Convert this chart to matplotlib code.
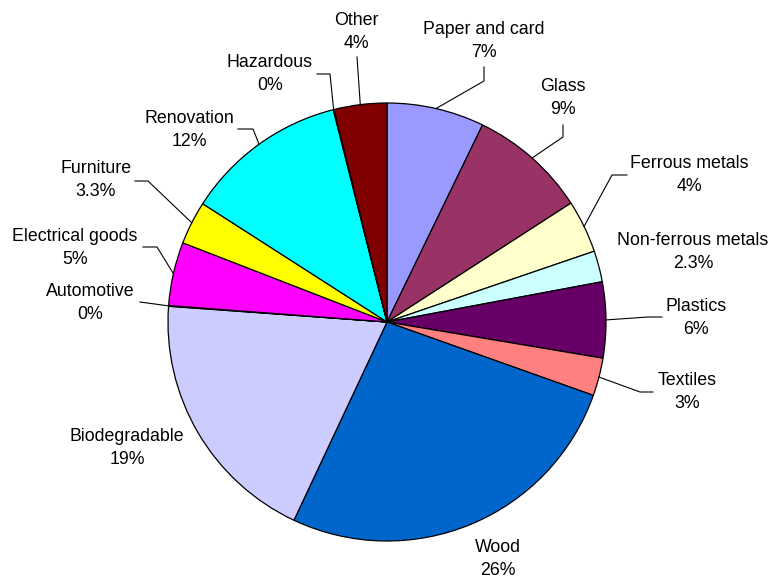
import numpy as np
import matplotlib
matplotlib.use("Agg")
import matplotlib.pyplot as plt

plt.rcParams['font.family'] = ['Liberation Sans', 'DejaVu Sans']

# Waste composition (share of total, %), clockwise from 12 o'clock
categories = ["Paper and card", "Glass", "Ferrous metals", "Non-ferrous metals",
              "Plastics", "Textiles", "Wood", "Biodegradable", "Automotive",
              "Electrical goods", "Furniture", "Renovation", "Hazardous", "Other"]
values = [7.2, 8.7, 3.9, 2.3, 5.6, 2.8, 26.6, 19.2, 0.05, 4.7, 3.2, 12.0, 0.05, 3.9]
pct_labels = ["7%", "9%", "4%", "2.3%", "6%", "3%", "26%", "19%", "0%",
              "5%", "3.3%", "12%", "0%", "4%"]
colors = ["#9999FF", "#993366", "#FFFFCC", "#CCFFFF", "#660066", "#FF8080",
          "#0066CC", "#CCCCFF", "#000080", "#FF00FF", "#FFFF00", "#00FFFF",
          "#800080", "#800000"]

W, H = 773, 579
cx, cy, r = 387, 322, 219   # pixel layout (y measured from top)

# label layout: text centre and leader-line elbow points (pixels, y from top)
label_pos = {
    "Paper and card": ((484, 41), [(484, 81), (484, 67)]),
    "Glass": ((563, 98), [(563, 137), (563, 125)]),
    "Ferrous metals": ((689, 175), [(612, 175), (627, 175)]),
    "Non-ferrous metals": ((693, 252), None),
    "Plastics": ((696, 318), [(648, 317), (662, 317)]),
    "Textiles": ((687, 392), [(640, 392), (653, 392)]),
    "Wood": ((498, 559), None),
    "Biodegradable": ((127, 448), None),
    "Automotive": ((90, 303), [(140, 302)]),
    "Electrical goods": ((75, 248), [(157, 247), (143, 247)]),
    "Furniture": ((96, 180), [(148, 181), (135, 181)]),
    "Renovation": ((189, 130), [(253, 129), (238, 129)]),
    "Hazardous": ((270, 74), [(330, 74), (317, 74)]),
    "Other": ((356, 32), [(357, 57)]),
}

fig = plt.figure(figsize=(W / 100, H / 100), dpi=100)
ax = fig.add_axes([0, 0, 1, 1])

wedges, _ = ax.pie(values, colors=colors, startangle=90, counterclock=False,
                   center=(cx, H - cy), radius=r,
                   wedgeprops=dict(edgecolor='black', linewidth=0.9))
ax.set_xlim(0, W)
ax.set_ylim(0, H)
ax.set_aspect('equal')
ax.axis('off')

for w, name, pct in zip(wedges, categories, pct_labels):
    (tx, ty), elbow = label_pos[name]
    mid = np.deg2rad((w.theta1 + w.theta2) / 2)
    ex, ey = cx + r * np.cos(mid), (H - cy) + r * np.sin(mid)
    if elbow:
        xs = [ex] + [p[0] for p in elbow]
        ys = [ey] + [H - p[1] for p in elbow]
        ax.plot(xs, ys, color='black', linewidth=0.8)
    ax.text(tx, H - ty, f"{name}\n{pct}", ha='center', va='center',
            fontsize=12.8, linespacing=1.5, color='black')

fig.savefig("out.png", dpi=100, facecolor='white')
